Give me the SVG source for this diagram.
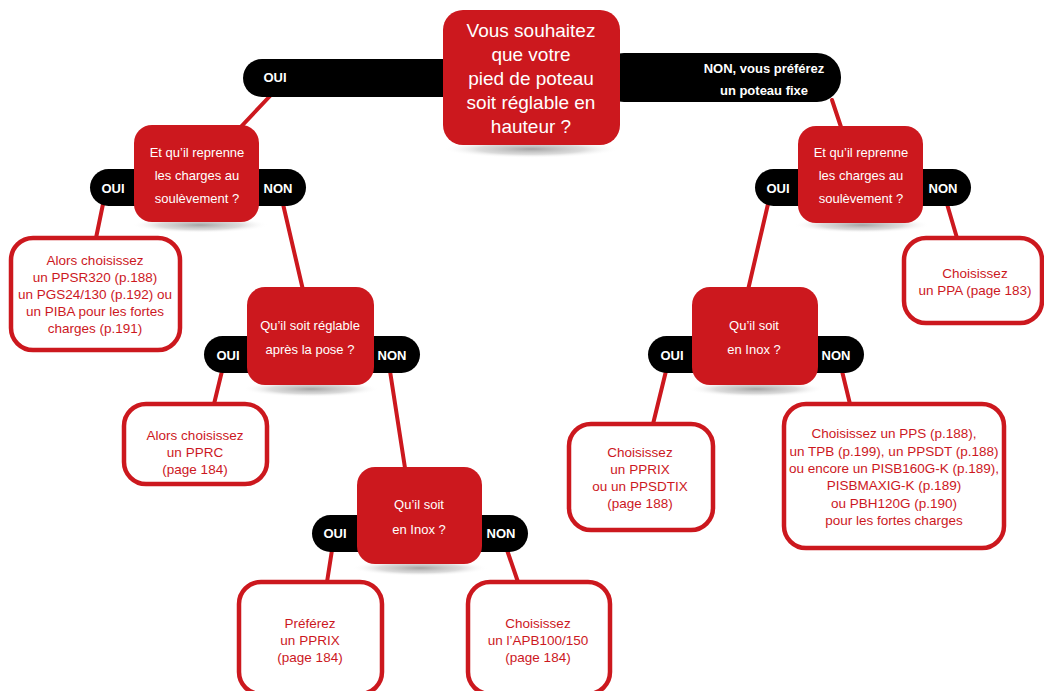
<svg xmlns="http://www.w3.org/2000/svg" width="1044" height="691" viewBox="0 0 1044 691">
<defs>
<radialGradient id="sh" cx="50%" cy="50%" r="50%">
<stop offset="0" stop-color="#9a9a9a" stop-opacity="0.9"/>
<stop offset="0.6" stop-color="#c4c4c4" stop-opacity="0.6"/>
<stop offset="1" stop-color="#ffffff" stop-opacity="0"/>
</radialGradient>
</defs>
<style>
.q{fill:#cc181e}
.pill{fill:#000}
.leaf{fill:#fff;stroke:#cc181e;stroke-width:4.5}
.con{stroke:#cc181e;stroke-width:4;fill:none;stroke-linecap:round}
.qt{font-family:"Liberation Sans",Arial,sans-serif;font-size:13px;fill:#fff;text-anchor:middle}
.tt{font-family:"Liberation Sans",Arial,sans-serif;font-size:19px;fill:#fff;text-anchor:middle}
.pl{font-family:"Liberation Sans",Arial,sans-serif;font-size:13px;font-weight:bold;fill:#fff;text-anchor:middle}
.lt{font-family:"Liberation Sans",Arial,sans-serif;font-size:13.5px;fill:#cc181e;text-anchor:middle}
.sh{fill:url(#sh)}
</style>
<rect width="1044" height="691" fill="#fff"/>

<g id="connectors">
<line class="con" x1="270" y1="96" x2="236" y2="132"/>
<line class="con" x1="832" y1="100" x2="842" y2="130"/>
<line class="con" x1="103" y1="204" x2="96" y2="238"/>
<line class="con" x1="283" y1="204" x2="303" y2="290"/>
<line class="con" x1="222" y1="371" x2="214" y2="404"/>
<line class="con" x1="390" y1="371" x2="405" y2="468"/>
<line class="con" x1="332" y1="550" x2="327" y2="582"/>
<line class="con" x1="507" y1="550" x2="518" y2="582"/>
<line class="con" x1="947" y1="204" x2="957" y2="238"/>
<line class="con" x1="768" y1="204" x2="748" y2="290"/>
<line class="con" x1="666" y1="371" x2="653" y2="424"/>
<line class="con" x1="842" y1="371" x2="850" y2="404"/>
</g>

<g id="q-top">
<rect class="pill" x="243" y="59" width="220" height="38" rx="19"/>
<rect class="pill" x="600" y="53" width="241" height="49" rx="24"/>
<text class="pl" x="275" y="82">OUI</text>
<text class="pl" x="764" y="73">NON, vous préférez</text>
<text class="pl" x="764" y="95">un poteau fixe</text>
<ellipse class="sh" cx="531" cy="149" rx="88" ry="9"/>
<rect class="q" x="443" y="10" width="177" height="135" rx="20"/>
<text class="tt" x="531" y="37">Vous souhaitez</text>
<text class="tt" x="531" y="61">que votre</text>
<text class="tt" x="531" y="85">pied de poteau</text>
<text class="tt" x="531" y="109">soit réglable en</text>
<text class="tt" x="531" y="133">hauteur ?</text>
</g>

<g id="q-left1">
<rect class="pill" x="90" y="169" width="216" height="37" rx="18.5"/>
<text class="pl" x="113" y="193">OUI</text>
<text class="pl" x="278" y="193">NON</text>
<ellipse class="sh" cx="200" cy="225" rx="68" ry="8"/>
<rect class="q" x="134" y="125" width="125" height="97" rx="18"/>
<text class="qt" x="197" y="157">Et qu’il reprenne</text>
<text class="qt" x="197" y="180">les charges au</text>
<text class="qt" x="197" y="203">soulèvement ?</text>
</g>

<g id="leaf-left1">
<rect class="leaf" x="11" y="238" width="169" height="112" rx="22"/>
<text class="lt" x="95" y="265">Alors choisissez</text>
<text class="lt" x="95" y="282">un PPSR320 (p.188)</text>
<text class="lt" x="95" y="299">un PGS24/130 (p.192) ou</text>
<text class="lt" x="95" y="316">un PIBA pour les fortes</text>
<text class="lt" x="95" y="333">charges (p.191)</text>
</g>

<g id="q-left2">
<rect class="pill" x="204" y="336" width="216" height="37" rx="18.5"/>
<text class="pl" x="228" y="360">OUI</text>
<text class="pl" x="392" y="360">NON</text>
<ellipse class="sh" cx="311" cy="389" rx="68" ry="8"/>
<rect class="q" x="247" y="287" width="127" height="98" rx="18"/>
<text class="qt" x="310" y="330">Qu’il soit réglable</text>
<text class="qt" x="310" y="354">après la pose ?</text>
</g>

<g id="leaf-left2">
<rect class="leaf" x="124" y="404" width="143" height="80" rx="22"/>
<text class="lt" x="195" y="440">Alors choisissez</text>
<text class="lt" x="195" y="457">un PPRC</text>
<text class="lt" x="195" y="474">(page 184)</text>
</g>

<g id="q-left3">
<rect class="pill" x="312" y="515" width="216" height="37" rx="18.5"/>
<text class="pl" x="335" y="538">OUI</text>
<text class="pl" x="501" y="538">NON</text>
<ellipse class="sh" cx="420" cy="568" rx="68" ry="8"/>
<rect class="q" x="357" y="467" width="125" height="97" rx="18"/>
<text class="qt" x="419" y="509">Qu’il soit</text>
<text class="qt" x="419" y="534">en Inox ?</text>
</g>

<g id="leaf-left3a">
<rect class="leaf" x="239" y="582" width="143" height="112" rx="22"/>
<text class="lt" x="310" y="628">Préférez</text>
<text class="lt" x="310" y="645">un PPRIX</text>
<text class="lt" x="310" y="662">(page 184)</text>
</g>

<g id="leaf-left3b">
<rect class="leaf" x="468" y="582" width="142" height="112" rx="22"/>
<text class="lt" x="538" y="628">Choisissez</text>
<text class="lt" x="538" y="645">un l’APB100/150</text>
<text class="lt" x="538" y="662">(page 184)</text>
</g>

<g id="q-right1">
<rect class="pill" x="755" y="169" width="216" height="37" rx="18.5"/>
<text class="pl" x="778" y="193">OUI</text>
<text class="pl" x="943" y="193">NON</text>
<ellipse class="sh" cx="862" cy="225" rx="68" ry="8"/>
<rect class="q" x="798" y="126" width="125" height="97" rx="18"/>
<text class="qt" x="861" y="157">Et qu’il reprenne</text>
<text class="qt" x="861" y="180">les charges au</text>
<text class="qt" x="861" y="203">soulèvement ?</text>
</g>

<g id="leaf-right1">
<rect class="leaf" x="904" y="238" width="138" height="85" rx="22"/>
<text class="lt" x="975" y="278">Choisissez</text>
<text class="lt" x="975" y="295">un PPA (page 183)</text>
</g>

<g id="q-right2">
<rect class="pill" x="648" y="336" width="216" height="37" rx="18.5"/>
<text class="pl" x="672" y="360">OUI</text>
<text class="pl" x="836" y="360">NON</text>
<ellipse class="sh" cx="756" cy="389" rx="68" ry="8"/>
<rect class="q" x="692" y="287" width="126" height="98" rx="18"/>
<text class="qt" x="754" y="330">Qu’il soit</text>
<text class="qt" x="754" y="354">en Inox ?</text>
</g>

<g id="leaf-right2a">
<rect class="leaf" x="569" y="424" width="144" height="106" rx="22"/>
<text class="lt" x="640" y="457">Choisissez</text>
<text class="lt" x="640" y="474">un PPRIX</text>
<text class="lt" x="640" y="491">ou un PPSDTIX</text>
<text class="lt" x="640" y="508">(page 188)</text>
</g>

<g id="leaf-right2b">
<rect class="leaf" x="784" y="404" width="220" height="144" rx="22"/>
<text class="lt" x="894" y="438">Choisissez un PPS (p.188),</text>
<text class="lt" x="894" y="456">un TPB (p.199), un PPSDT (p.188)</text>
<text class="lt" x="894" y="473">ou encore un PISB160G-K (p.189),</text>
<text class="lt" x="894" y="490">PISBMAXIG-K (p.189)</text>
<text class="lt" x="894" y="508">ou PBH120G (p.190)</text>
<text class="lt" x="894" y="525">pour les fortes charges</text>
</g>
</svg>
